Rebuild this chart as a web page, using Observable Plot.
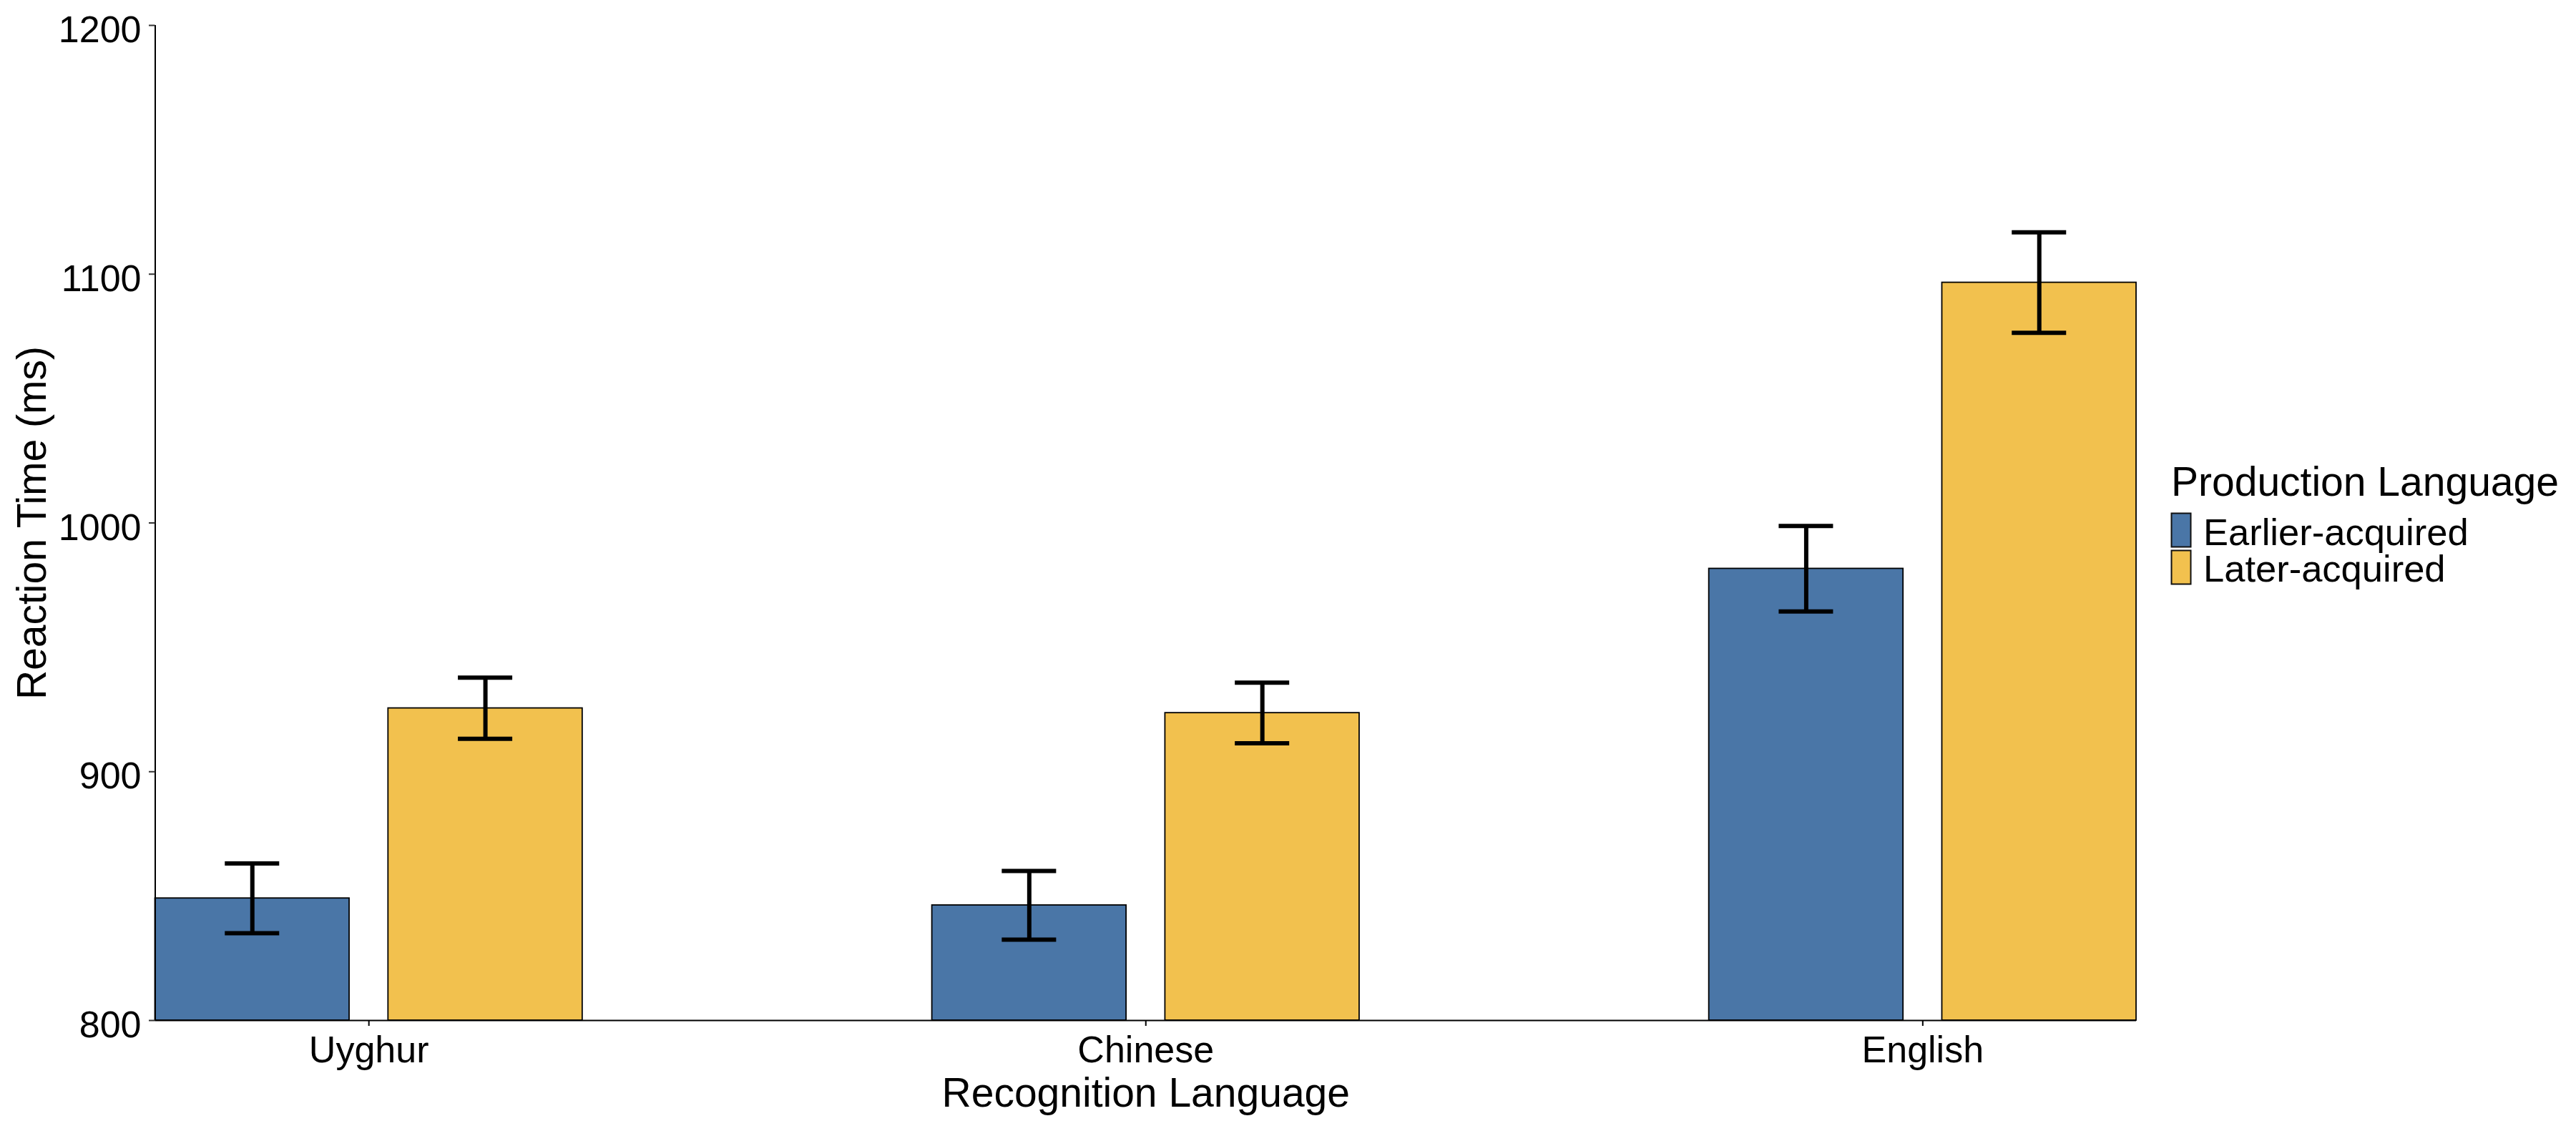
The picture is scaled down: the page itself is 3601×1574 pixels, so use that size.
<!DOCTYPE html>
<html>
<head>
<meta charset="utf-8">
<script src="https://cdn.jsdelivr.net/npm/d3@7"></script>
<script src="https://cdn.jsdelivr.net/npm/@observablehq/plot@0.6"></script>
<style>
  html, body { margin: 0; padding: 0; background: #fff; }
  #root { position: relative; width: 3601px; height: 1574px; background: #fff; overflow: hidden; }
  #root svg { display: block; }
  #legend { position: absolute; left: 3000px; top: 600px; }
</style>
</head>
<body>
<div id="root"></div>
<script>
// ---- Data ----
const categories = ["Uyghur", "Chinese", "English"];
const groups = ["Earlier-acquired", "Later-acquired"];
const earlierMean = [849.1, 846.3, 981.6];
const earlierSE   = [14.0, 13.8, 17.2];
const laterMean   = [925.5, 923.6, 1096.6];
const laterSE     = [12.3, 12.2, 20.2];
const yTicks = [800, 900, 1000, 1100, 1200];
const colors = ["#4A76A7", "#F2C14E"];
const xTitle = "Recognition Language";
const yTitle = "Reaction Time (ms)";
const legendTitle = "Production Language";

// ---- Layout constants (ggplot-style dodge) ----
const dodge = 0.15, barHalf = 0.125, capHalf = 0.035;
const yDomain = [800, 1200];
const xDomain = [1 - dodge - barHalf, categories.length + dodge + barHalf];
const FONT = "'Liberation Sans', Arial, Helvetica, sans-serif";

const means = [earlierMean, laterMean];
const ses = [earlierSE, laterSE];
const rows = categories.flatMap((c, i) => groups.map((g, j) => ({
  cat: c, group: g,
  pos: i + 1 + (j === 0 ? -dodge : dodge),
  mean: means[j][i], se: ses[j][i]
})));

const plot = Plot.plot({
  width: 3601,
  height: 1574,
  marginLeft: 216.5,
  marginRight: 615,
  marginTop: 35,
  marginBottom: 148,
  style: { fontFamily: FONT, background: "white", overflow: "visible", color: "black" },
  x: { type: "linear", domain: xDomain, axis: null },
  y: { domain: yDomain, axis: null },
  color: { domain: groups, range: colors },
  marks: [
    Plot.rect(rows, {
      x1: d => d.pos - barHalf, x2: d => d.pos + barHalf,
      y1: yDomain[0], y2: "mean",
      fill: "group", stroke: "black", strokeWidth: 1.8
    }),
    Plot.ruleX(rows, { x: "pos", y1: d => d.mean - d.se, y2: d => d.mean + d.se, stroke: "black", strokeWidth: 6 }),
    Plot.ruleY(rows, { y: d => d.mean + d.se, x1: d => d.pos - capHalf, x2: d => d.pos + capHalf, stroke: "black", strokeWidth: 6 }),
    Plot.ruleY(rows, { y: d => d.mean - d.se, x1: d => d.pos - capHalf, x2: d => d.pos + capHalf, stroke: "black", strokeWidth: 6 }),
    // axis lines
    Plot.ruleX([xDomain[0]], { y1: yDomain[0], y2: yDomain[1], stroke: "black", strokeWidth: 2 }),
    Plot.ruleY([yDomain[0]], { x1: xDomain[0], x2: xDomain[1], stroke: "black", strokeWidth: 2 }),
    // y axis ticks and labels
    Plot.axisY({ ticks: yTicks, tickSize: 8.5, tickFormat: () => "", label: null, color: "#333", strokeWidth: 2 }),
    Plot.axisY({ ticks: yTicks, tickSize: 0, tickPadding: 19.5, dy: 7, fontSize: 52, label: null, color: "black",
      fontFamily: FONT, tickFormat: d => String(d) }),
    // x axis ticks and labels
    Plot.axisX({ ticks: categories.map((c, i) => i + 1), tickFormat: v => categories[v - 1], tickSize: 8, tickPadding: 14,
      fontSize: 52, label: null, color: "black", strokeWidth: 2, fontFamily: FONT }),
    // axis titles
    Plot.text([xTitle], { frameAnchor: "bottom", lineAnchor: "middle", textAnchor: "middle", dy: 102.5,
      fontSize: 57, fill: "black", fontFamily: FONT }),
    Plot.text([yTitle], { frameAnchor: "left", lineAnchor: "middle", textAnchor: "middle", rotate: -90, dx: -171.4,
      fontSize: 57, fill: "black", fontFamily: FONT })
  ]
});

const root = document.getElementById("root");
root.appendChild(plot);

// ---- Legend (to the right of the plot) ----
const lg = d3.select(root).append("svg")
  .attr("id", "legend")
  .attr("width", 601).attr("height", 260)
  .style("font-family", FONT);
lg.append("text").attr("x", 35).attr("y", 93.3).attr("font-size", 57).attr("fill", "black").text(legendTitle);
groups.forEach((g, j) => {
  lg.append("rect")
    .attr("x", 35.5).attr("y", 117.5 + j * 52)
    .attr("width", 27).attr("height", 47)
    .attr("fill", colors[j]).attr("stroke", "#111").attr("stroke-width", 2);
  lg.append("text")
    .attr("x", 80).attr("y", 161.7 + j * 51.6)
    .attr("font-size", 52.5).attr("fill", "black").text(g);
});
</script>
</body>
</html>
